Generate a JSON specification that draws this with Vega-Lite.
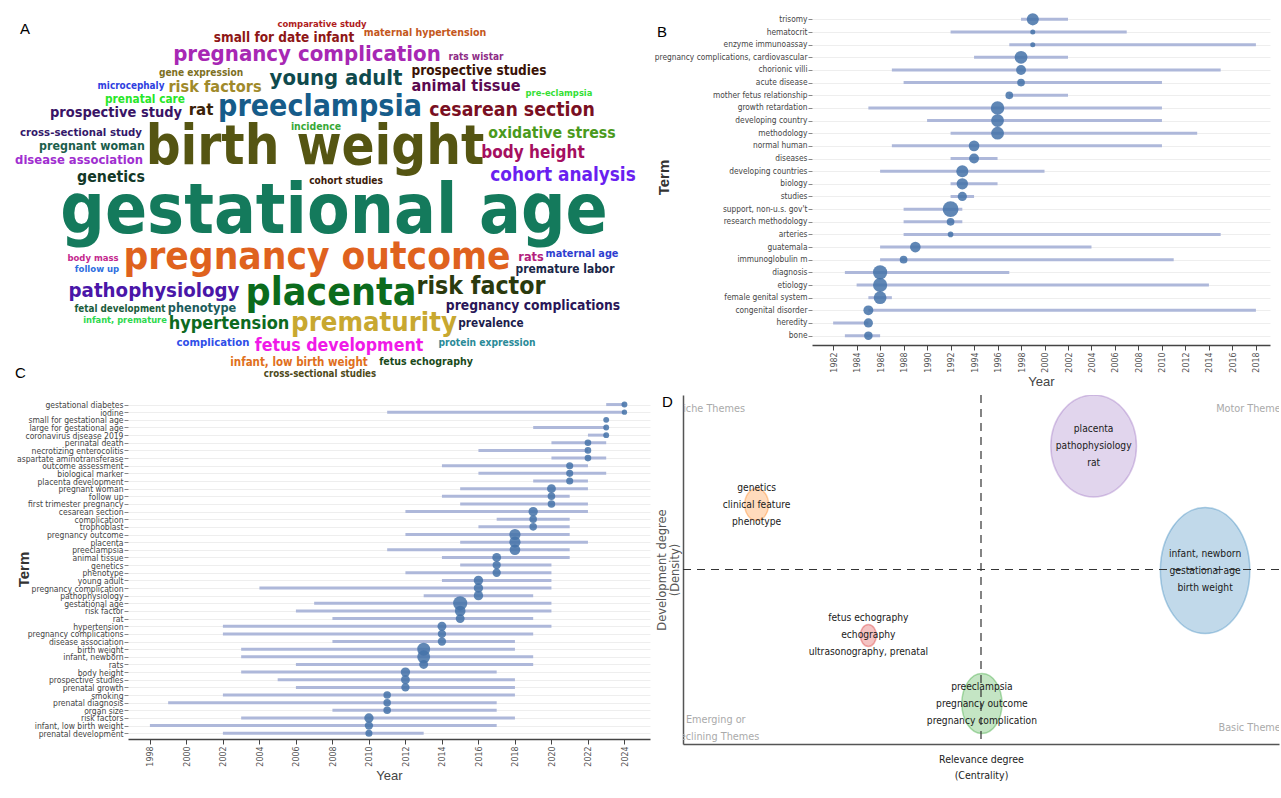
{
  "$schema": "https://vega.github.io/schema/vega-lite/v6.json",
  "padding": {"left": 15, "top": 10, "right": 0, "bottom": 0},
  "background": "white",
  "config": {"view": {"stroke": null}, "axis": {"labelFont": "DejaVu Sans Condensed, Liberation Sans", "titleFont": "Liberation Sans"}},
  "spacing": -23,
  "resolve": {"scale": {"color": "independent", "size": "independent", "shape": "independent", "stroke": "independent", "x": "independent", "y": "independent"}},
  "datasets": {
    "words": [
      {"word": "comparative study", "x": 322, "y": 24, "freq": 12.4},
      {"word": "maternal hypertension", "x": 425, "y": 33, "freq": 13.9},
      {"word": "small for date infant", "x": 284, "y": 38, "freq": 17.8},
      {"word": "pregnancy complication", "x": 307, "y": 54, "freq": 29},
      {"word": "rats wistar", "x": 476, "y": 57, "freq": 13.2},
      {"word": "gene expression", "x": 201, "y": 73, "freq": 13.3},
      {"word": "young adult", "x": 336, "y": 78, "freq": 28.8},
      {"word": "prospective studies", "x": 479, "y": 71, "freq": 17.8},
      {"word": "microcephaly", "x": 131, "y": 86, "freq": 13},
      {"word": "risk factors", "x": 215, "y": 87, "freq": 21.3},
      {"word": "animal tissue", "x": 466, "y": 86, "freq": 21.2},
      {"word": "pre-eclampsia", "x": 559, "y": 93, "freq": 12.3},
      {"word": "prenatal care", "x": 145, "y": 99, "freq": 15.5},
      {"word": "prospective study", "x": 116, "y": 113, "freq": 19.1},
      {"word": "rat", "x": 201, "y": 110, "freq": 22},
      {"word": "preeclampsia", "x": 320, "y": 107, "freq": 39.5},
      {"word": "cesarean section", "x": 512, "y": 110, "freq": 25.4},
      {"word": "cross-sectional study", "x": 81, "y": 133, "freq": 14.9},
      {"word": "incidence", "x": 316, "y": 127, "freq": 13.7},
      {"word": "birth weight", "x": 315, "y": 148, "freq": 71.4},
      {"word": "oxidative stress", "x": 552, "y": 133, "freq": 20.7},
      {"word": "pregnant woman", "x": 92, "y": 146, "freq": 16.2},
      {"word": "body height", "x": 533, "y": 153, "freq": 22.4},
      {"word": "disease association", "x": 79, "y": 160, "freq": 17},
      {"word": "genetics", "x": 111, "y": 177, "freq": 20.7},
      {"word": "cohort studies", "x": 346, "y": 181, "freq": 13.3},
      {"word": "cohort analysis", "x": 563, "y": 175, "freq": 24.8},
      {"word": "gestational age", "x": 334, "y": 212, "freq": 91},
      {"word": "body mass", "x": 93, "y": 258, "freq": 12.4},
      {"word": "pregnancy outcome", "x": 317, "y": 257, "freq": 50.7},
      {"word": "rats", "x": 531, "y": 257, "freq": 16.6},
      {"word": "maternal age", "x": 582, "y": 254, "freq": 14.2},
      {"word": "follow up", "x": 97, "y": 269, "freq": 12.5},
      {"word": "premature labor", "x": 565, "y": 269, "freq": 15.7},
      {"word": "pathophysiology", "x": 154, "y": 291, "freq": 26.7},
      {"word": "placenta", "x": 331, "y": 293, "freq": 51.4},
      {"word": "risk factor", "x": 481, "y": 287, "freq": 32.5},
      {"word": "pregnancy complications", "x": 533, "y": 306, "freq": 18.1},
      {"word": "fetal development", "x": 120, "y": 309, "freq": 12.9},
      {"word": "phenotype", "x": 202, "y": 308, "freq": 16.6},
      {"word": "infant, premature", "x": 125, "y": 320, "freq": 12.2},
      {"word": "hypertension", "x": 229, "y": 324, "freq": 23.7},
      {"word": "prematurity", "x": 374, "y": 323, "freq": 35.9},
      {"word": "prevalence", "x": 491, "y": 323, "freq": 15.4},
      {"word": "complication", "x": 213, "y": 343, "freq": 14.8},
      {"word": "fetus development", "x": 339, "y": 346, "freq": 23.2},
      {"word": "protein expression", "x": 487, "y": 343, "freq": 13.4},
      {"word": "infant, low birth weight", "x": 299, "y": 363, "freq": 15.1},
      {"word": "fetus echography", "x": 426, "y": 362, "freq": 13.9},
      {"word": "cross-sectional studies", "x": 320, "y": 374, "freq": 12.7}
    ],
    "trendB": [
      {"term": "trisomy", "q1": 1998, "median": 1999, "q3": 2002, "freq": 46},
      {"term": "hematocrit", "q1": 1992, "median": 1999, "q3": 2007, "freq": 8},
      {"term": "enzyme immunoassay", "q1": 1997, "median": 1999, "q3": 2018, "freq": 8},
      {"term": "pregnancy complications, cardiovascular", "q1": 1994, "median": 1998, "q3": 2002, "freq": 52},
      {"term": "chorionic villi", "q1": 1987, "median": 1998, "q3": 2015, "freq": 31},
      {"term": "acute disease", "q1": 1988, "median": 1998, "q3": 2010, "freq": 19},
      {"term": "mother fetus relationship", "q1": 1997, "median": 1997, "q3": 2002, "freq": 19},
      {"term": "growth retardation", "q1": 1985, "median": 1996, "q3": 2010, "freq": 58},
      {"term": "developing country", "q1": 1990, "median": 1996, "q3": 2010, "freq": 52},
      {"term": "methodology", "q1": 1992, "median": 1996, "q3": 2013, "freq": 52},
      {"term": "normal human", "q1": 1987, "median": 1994, "q3": 2010, "freq": 36},
      {"term": "diseases", "q1": 1992, "median": 1994, "q3": 1996, "freq": 31},
      {"term": "developing countries", "q1": 1986, "median": 1993, "q3": 2000, "freq": 46},
      {"term": "biology", "q1": 1992, "median": 1993, "q3": 1996, "freq": 41},
      {"term": "studies", "q1": 1992, "median": 1993, "q3": 1994, "freq": 27},
      {"term": "support, non-u.s. gov't", "q1": 1988, "median": 1992, "q3": 1993, "freq": 79},
      {"term": "research methodology", "q1": 1988, "median": 1992, "q3": 1993, "freq": 19},
      {"term": "arteries", "q1": 1988, "median": 1992, "q3": 2015, "freq": 10},
      {"term": "guatemala", "q1": 1986, "median": 1989, "q3": 2004, "freq": 36},
      {"term": "immunoglobulin m", "q1": 1986, "median": 1988, "q3": 2011, "freq": 19},
      {"term": "diagnosis", "q1": 1983, "median": 1986, "q3": 1997, "freq": 64},
      {"term": "etiology", "q1": 1984, "median": 1986, "q3": 2014, "freq": 64},
      {"term": "female genital system", "q1": 1985, "median": 1986, "q3": 1987, "freq": 52},
      {"term": "congenital disorder", "q1": 1985, "median": 1985, "q3": 2018, "freq": 31},
      {"term": "heredity", "q1": 1982, "median": 1985, "q3": 1985, "freq": 27},
      {"term": "bone", "q1": 1983, "median": 1985, "q3": 1986, "freq": 23}
    ],
    "trendC": [
      {"term": "gestational diabetes", "q1": 2023, "median": 2024, "q3": 2024, "freq": 11},
      {"term": "iodine", "q1": 2011, "median": 2024, "q3": 2024, "freq": 9},
      {"term": "small for gestational age", "q1": 2023, "median": 2023, "q3": 2023, "freq": 11},
      {"term": "large for gestational age", "q1": 2019, "median": 2023, "q3": 2023, "freq": 11},
      {"term": "coronavirus disease 2019", "q1": 2022, "median": 2023, "q3": 2023, "freq": 11},
      {"term": "perinatal death", "q1": 2020, "median": 2022, "q3": 2023, "freq": 14},
      {"term": "necrotizing enterocolitis", "q1": 2016, "median": 2022, "q3": 2022, "freq": 14},
      {"term": "aspartate aminotransferase", "q1": 2020, "median": 2022, "q3": 2023, "freq": 14},
      {"term": "outcome assessment", "q1": 2014, "median": 2021, "q3": 2022, "freq": 16},
      {"term": "biological marker", "q1": 2016, "median": 2021, "q3": 2023, "freq": 16},
      {"term": "placenta development", "q1": 2019, "median": 2021, "q3": 2022, "freq": 16},
      {"term": "pregnant woman", "q1": 2015, "median": 2020, "q3": 2022, "freq": 25},
      {"term": "follow up", "q1": 2014, "median": 2020, "q3": 2021, "freq": 18},
      {"term": "first trimester pregnancy", "q1": 2015, "median": 2020, "q3": 2022, "freq": 18},
      {"term": "cesarean section", "q1": 2012, "median": 2019, "q3": 2022, "freq": 28},
      {"term": "complication", "q1": 2017, "median": 2019, "q3": 2021, "freq": 18},
      {"term": "trophoblast", "q1": 2016, "median": 2019, "q3": 2021, "freq": 18},
      {"term": "pregnancy outcome", "q1": 2012, "median": 2018, "q3": 2021, "freq": 40},
      {"term": "placenta", "q1": 2015, "median": 2018, "q3": 2022, "freq": 40},
      {"term": "preeclampsia", "q1": 2011, "median": 2018, "q3": 2021, "freq": 36},
      {"term": "animal tissue", "q1": 2014, "median": 2017, "q3": 2021, "freq": 25},
      {"term": "genetics", "q1": 2015, "median": 2017, "q3": 2020, "freq": 22},
      {"term": "phenotype", "q1": 2012, "median": 2017, "q3": 2020, "freq": 22},
      {"term": "young adult", "q1": 2014, "median": 2016, "q3": 2020, "freq": 28},
      {"term": "pregnancy complication", "q1": 2004, "median": 2016, "q3": 2020, "freq": 28},
      {"term": "pathophysiology", "q1": 2013, "median": 2016, "q3": 2019, "freq": 28},
      {"term": "gestational age", "q1": 2007, "median": 2015, "q3": 2020, "freq": 64},
      {"term": "risk factor", "q1": 2006, "median": 2015, "q3": 2020, "freq": 36},
      {"term": "rat", "q1": 2008, "median": 2015, "q3": 2019, "freq": 25},
      {"term": "hypertension", "q1": 2002, "median": 2014, "q3": 2020, "freq": 25},
      {"term": "pregnancy complications", "q1": 2002, "median": 2014, "q3": 2019, "freq": 22},
      {"term": "disease association", "q1": 2008, "median": 2014, "q3": 2018, "freq": 22},
      {"term": "birth weight", "q1": 2003, "median": 2013, "q3": 2018, "freq": 53},
      {"term": "infant, newborn", "q1": 2003, "median": 2013, "q3": 2019, "freq": 53},
      {"term": "rats", "q1": 2006, "median": 2013, "q3": 2019, "freq": 25},
      {"term": "body height", "q1": 2003, "median": 2012, "q3": 2017, "freq": 28},
      {"term": "prospective studies", "q1": 2005, "median": 2012, "q3": 2018, "freq": 25},
      {"term": "prenatal growth", "q1": 2006, "median": 2012, "q3": 2018, "freq": 22},
      {"term": "smoking", "q1": 2002, "median": 2011, "q3": 2018, "freq": 18},
      {"term": "prenatal diagnosis", "q1": 1999, "median": 2011, "q3": 2017, "freq": 18},
      {"term": "organ size", "q1": 2008, "median": 2011, "q3": 2017, "freq": 18},
      {"term": "risk factors", "q1": 2003, "median": 2010, "q3": 2018, "freq": 28},
      {"term": "infant, low birth weight", "q1": 1998, "median": 2010, "q3": 2017, "freq": 22},
      {"term": "prenatal development", "q1": 2002, "median": 2010, "q3": 2013, "freq": 16}
    ],
    "themes": [
      {"cluster": "placenta", "label": "placenta\npathophysiology\nrat", "cx": 0.378, "cy": 0.708, "occurrences": 1040},
      {"cluster": "infant, newborn", "label": "infant, newborn\ngestational age\nbirth weight", "cx": 0.752, "cy": -0.006, "occurrences": 1588},
      {"cluster": "genetics", "label": "genetics\nclinical feature\nphenotype", "cx": -0.753, "cy": 0.372, "occurrences": 102},
      {"cluster": "fetus echography", "label": "fetus echography\nechography\nultrasonography, prenatal", "cx": -0.378, "cy": -0.378, "occurrences": 48},
      {"cluster": "preeclampsia", "label": "preeclampsia\npregnancy outcome\npregnancy complication", "cx": 0.003, "cy": -0.768, "occurrences": 360}
    ],
    "quads": [
      {"label": "Niche Themes", "cx": -0.908, "cy": 0.917},
      {"label": "Motor Themes", "cx": 0.906, "cy": 0.917},
      {"label": "Emerging or\nDeclining Themes", "cx": -0.89, "cy": -0.865},
      {"label": "Basic Themes", "cx": 0.91, "cy": -0.911}
    ]
  },
  "vconcat": [
    {
      "bounds": "flush",
      "spacing": 33,
      "resolve": {"scale": {"color": "independent", "size": "independent", "x": "independent", "y": "independent"}},
      "hconcat": [
        {
          "width": 651,
          "height": 335,
          "title": {"text": "A", "anchor": "start", "frame": "group", "offset": 0, "baseline": "alphabetic", "dx": -108, "dy": 39, "fontSize": 15, "fontWeight": "normal", "font": "Liberation Sans", "color": "#000000"},
          "data": {"name": "words"},
          "mark": {"type": "text", "font": "DejaVu Sans Condensed, Liberation Sans", "fontWeight": "bold", "align": "center", "baseline": "middle"},
          "encoding": {
            "x": {"field": "x", "type": "quantitative", "scale": {"domain": [128, 779], "nice": false, "zero": false}, "axis": null},
            "y": {"field": "y", "type": "quantitative", "scale": {"domain": [10, 345], "nice": false, "zero": false, "reverse": true}, "axis": null},
            "text": {"field": "word"},
            "size": {"field": "freq", "type": "quantitative", "scale": {"domain": [0, 100], "range": [0, 76]}, "legend": null},
            "color": {"field": "word", "type": "nominal", "legend": null, "scale": {
              "domain": ["comparative study", "maternal hypertension", "small for date infant", "pregnancy complication", "rats wistar", "gene expression", "young adult", "prospective studies", "microcephaly", "risk factors", "animal tissue", "pre-eclampsia", "prenatal care", "prospective study", "rat", "preeclampsia", "cesarean section", "cross-sectional study", "incidence", "birth weight", "oxidative stress", "pregnant woman", "body height", "disease association", "genetics", "cohort studies", "cohort analysis", "gestational age", "body mass", "pregnancy outcome", "rats", "maternal age", "follow up", "premature labor", "pathophysiology", "placenta", "risk factor", "pregnancy complications", "fetal development", "phenotype", "infant, premature", "hypertension", "prematurity", "prevalence", "complication", "fetus development", "protein expression", "infant, low birth weight", "fetus echography", "cross-sectional studies"],
              "range": ["#b01c1c", "#c4571c", "#8e1616", "#a728b4", "#8e2c86", "#7d6f1f", "#0f4a4d", "#3b1306", "#2f3fe0", "#a08a2a", "#5b0a50", "#34e034", "#28e628", "#3a1466", "#3b2208", "#165c8a", "#7a0f22", "#34186a", "#37a837", "#555512", "#4a9a1c", "#1b5e4b", "#a50f5f", "#a02ed0", "#123828", "#3b1a08", "#6a1ff0", "#147a5c", "#c4288e", "#df621e", "#b41e7e", "#2e3ed0", "#2e6ee0", "#1a2648", "#4a16a8", "#0b6b1c", "#2b3a0e", "#2a1658", "#1b5c3c", "#1c5c5c", "#2ed84e", "#0d6a1e", "#c8a830", "#1c1c4c", "#2e4ee8", "#f01ae8", "#2a8a98", "#e0701c", "#1a4a1a", "#4e4a1a"]
            }}
          }
        },
        {
          "width": 458,
          "height": 335,
          "title": {"text": "B", "anchor": "start", "frame": "group", "offset": 0, "baseline": "alphabetic", "dx": -155, "dy": 42, "fontSize": 15, "fontWeight": "normal", "font": "Liberation Sans", "color": "#000000"},
          "data": {"name": "trendB"},
          "encoding": {
            "y": {"field": "term", "type": "nominal", "sort": null, "scale": {"type": "point", "padding": 0.741},
              "axis": {"title": "Term", "titleFont": "Liberation Sans", "titleFontWeight": "bold", "titleFontSize": 15, "titleColor": "#333333", "titleAngle": -90, "titleX": -149, "titleY": 167, "titleAlign": "center", "titleBaseline": "middle",
                "labelFontSize": 8.3, "labelColor": "#444444", "domain": false, "ticks": true, "tickSize": 4, "tickColor": "#888888", "labelPadding": 1, "grid": true, "gridColor": "#eeeeee"}}
          },
          "layer": [
            {
              "mark": {"type": "rule", "color": "#aeb8da", "strokeWidth": 3},
              "encoding": {
                "x": {"field": "q1", "type": "quantitative", "title": "Year", "scale": {"domain": [1980.2, 2019.2], "nice": false, "zero": false},
                  "axis": {"title": "Year", "values": [1982, 1984, 1986, 1988, 1990, 1992, 1994, 1996, 1998, 2000, 2002, 2004, 2006, 2008, 2010, 2012, 2014, 2016, 2018], "format": "d", "labelAngle": -90, "labelFontSize": 8.8, "labelColor": "#555555", "domainColor": "#444444", "domainWidth": 1.5, "tickColor": "#444444", "tickSize": 5, "labelPadding": 2, "grid": false, "titleFontSize": 13, "titleFontWeight": "normal", "titleColor": "#444444", "titlePadding": 3}},
                "x2": {"field": "q3"}
              }
            },
            {
              "mark": {"type": "circle", "color": "#4472a8", "opacity": 0.85},
              "encoding": {
                "x": {"field": "median", "type": "quantitative", "title": "Year", "scale": {"domain": [1980.2, 2019.2], "nice": false, "zero": false},
                  "axis": {"title": "Year", "values": [1982, 1984, 1986, 1988, 1990, 1992, 1994, 1996, 1998, 2000, 2002, 2004, 2006, 2008, 2010, 2012, 2014, 2016, 2018], "format": "d", "labelAngle": -90, "labelFontSize": 8.8, "labelColor": "#555555", "domainColor": "#444444", "domainWidth": 1.5, "tickColor": "#444444", "tickSize": 5, "labelPadding": 2, "grid": false, "titleFontSize": 13, "titleFontWeight": "normal", "titleColor": "#444444", "titlePadding": 3}},
                "size": {"field": "freq", "type": "quantitative", "scale": {"domain": [0, 100], "range": [0, 314]}, "legend": null}
              }
            }
          ]
        }
      ]
    },
    {
      "bounds": "flush",
      "spacing": 33,
      "resolve": {"scale": {"color": "independent", "size": "independent", "shape": "independent", "stroke": "independent", "x": "independent", "y": "independent"}},
      "hconcat": [
        {
          "width": 522,
          "height": 344,
          "title": {"text": "C", "anchor": "start", "frame": "group", "offset": 0, "baseline": "alphabetic", "dx": -113, "dy": -2, "fontSize": 15, "fontWeight": "normal", "font": "Liberation Sans", "color": "#000000"},
          "data": {"name": "trendC"},
          "encoding": {
            "y": {"field": "term", "type": "nominal", "sort": null, "scale": {"type": "point", "padding": 1.049, "align": 0.625},
              "axis": {"title": "Term", "titleFont": "Liberation Sans", "titleFontWeight": "bold", "titleFontSize": 15, "titleColor": "#333333", "titleAngle": -90, "titleX": -105, "titleY": 174, "titleAlign": "center", "titleBaseline": "middle",
                "labelFontSize": 8.5, "labelColor": "#444444", "domain": false, "ticks": true, "tickSize": 4, "tickColor": "#888888", "labelPadding": 1, "grid": true, "gridColor": "#eeeeee"}}
          },
          "layer": [
            {
              "mark": {"type": "rule", "color": "#aeb8da", "strokeWidth": 3},
              "encoding": {
                "x": {"field": "q1", "type": "quantitative", "title": "Year", "scale": {"domain": [1996.8, 2025.4], "nice": false, "zero": false},
                  "axis": {"title": "Year", "values": [1998, 2000, 2002, 2004, 2006, 2008, 2010, 2012, 2014, 2016, 2018, 2020, 2022, 2024], "format": "d", "labelAngle": -90, "labelFontSize": 8.8, "labelColor": "#555555", "domainColor": "#444444", "domainWidth": 1.5, "tickColor": "#444444", "tickSize": 5, "labelPadding": 2, "grid": false, "titleFontSize": 13, "titleFontWeight": "normal", "titleColor": "#444444", "titlePadding": 3}},
                "x2": {"field": "q3"}
              }
            },
            {
              "mark": {"type": "circle", "color": "#4472a8", "opacity": 0.85},
              "encoding": {
                "x": {"field": "median", "type": "quantitative", "title": "Year", "scale": {"domain": [1996.8, 2025.4], "nice": false, "zero": false},
                  "axis": {"title": "Year", "values": [1998, 2000, 2002, 2004, 2006, 2008, 2010, 2012, 2014, 2016, 2018, 2020, 2022, 2024], "format": "d", "labelAngle": -90, "labelFontSize": 8.8, "labelColor": "#555555", "domainColor": "#444444", "domainWidth": 1.5, "tickColor": "#444444", "tickSize": 5, "labelPadding": 2, "grid": false, "titleFontSize": 13, "titleFontWeight": "normal", "titleColor": "#444444", "titlePadding": 3}},
                "size": {"field": "freq", "type": "quantitative", "scale": {"domain": [0, 100], "range": [0, 314]}, "legend": null}
              }
            }
          ]
        },
        {
          "width": 596,
          "height": 349,
          "title": {"text": "D", "anchor": "start", "frame": "group", "offset": 0, "baseline": "alphabetic", "dx": -21, "dy": 28, "fontSize": 15, "fontWeight": "normal", "font": "Liberation Sans", "color": "#000000"},
          "layer": [
            {
              "data": {"name": "themes"},
              "mark": {"type": "point", "filled": true, "clip": true, "fillOpacity": 0.28, "strokeOpacity": 0.35, "strokeWidth": 1.5},
              "encoding": {
                "x": {"field": "cx", "type": "quantitative", "scale": {"domain": [-1, 1], "nice": false, "zero": false},
                  "axis": {"title": ["Relevance degree", "(Centrality)"], "titleFont": "DejaVu Sans Condensed, Liberation Sans", "titleFontSize": 10.5, "titleFontWeight": "normal", "titleColor": "#222222", "titleLineHeight": 16, "titlePadding": 10, "labels": false, "ticks": false, "grid": false, "domainColor": "#555555", "domainWidth": 1.5}},
                "y": {"field": "cy", "type": "quantitative", "scale": {"domain": [-1, 1], "nice": false, "zero": false},
                  "axis": {"title": ["Development degree", "(Density)"], "titleFont": "DejaVu Sans", "titleFontSize": 11.5, "titleFontWeight": "normal", "titleColor": "#555555", "titleLineHeight": 13, "titlePadding": 3, "labels": false, "ticks": false, "grid": false, "domainColor": "#555555", "domainWidth": 1.5}},
                "size": {"field": "occurrences", "type": "quantitative", "scale": {"domain": [0, 1600], "range": [0, 16000]}, "legend": null},
                "shape": {"field": "cluster", "type": "nominal", "legend": null, "scale": {
                  "domain": ["placenta", "infant, newborn", "genetics", "fetus echography", "preeclampsia"],
                  "range": ["M-0.84,0A0.84,1 0 1,1 0.84,0A0.84,1 0 1,1 -0.84,0Z", "M-0.71,0A0.71,1 0 1,1 0.71,0A0.71,1 0 1,1 -0.71,0Z", "M-0.75,0A0.75,1 0 1,1 0.75,0A0.75,1 0 1,1 -0.75,0Z", "M-0.73,0A0.73,1 0 1,1 0.73,0A0.73,1 0 1,1 -0.73,0Z", "M-0.67,0A0.67,1 0 1,1 0.67,0A0.67,1 0 1,1 -0.67,0Z"]}},
                "color": {"field": "cluster", "type": "nominal", "legend": null, "scale": {
                  "domain": ["placenta", "infant, newborn", "genetics", "fetus echography", "preeclampsia"],
                  "range": ["#9467bd", "#1f77b4", "#ff7f0e", "#d62728", "#2ca02c"]}},
                "stroke": {"field": "cluster", "type": "nominal", "legend": null, "scale": {
                  "domain": ["placenta", "infant, newborn", "genetics", "fetus echography", "preeclampsia"],
                  "range": ["#9467bd", "#1f77b4", "#ff7f0e", "#d62728", "#2ca02c"]}}
              }
            },
            {
              "data": {"name": "themes"},
              "mark": {"type": "text", "lineBreak": "\n", "font": "DejaVu Sans Condensed, Liberation Sans", "fontSize": 10.2, "lineHeight": 17, "dy": -17, "color": "#1a1a1a", "align": "center", "baseline": "middle"},
              "encoding": {
                "x": {"field": "cx", "type": "quantitative", "scale": {"domain": [-1, 1], "nice": false, "zero": false},
                  "axis": {"title": ["Relevance degree", "(Centrality)"], "titleFont": "DejaVu Sans Condensed, Liberation Sans", "titleFontSize": 10.5, "titleFontWeight": "normal", "titleColor": "#222222", "titleLineHeight": 16, "titlePadding": 10, "labels": false, "ticks": false, "grid": false, "domainColor": "#555555", "domainWidth": 1.5}},
                "y": {"field": "cy", "type": "quantitative", "scale": {"domain": [-1, 1], "nice": false, "zero": false},
                  "axis": {"title": ["Development degree", "(Density)"], "titleFont": "DejaVu Sans", "titleFontSize": 11.5, "titleFontWeight": "normal", "titleColor": "#555555", "titleLineHeight": 13, "titlePadding": 3, "labels": false, "ticks": false, "grid": false, "domainColor": "#555555", "domainWidth": 1.5}},
                "text": {"field": "label"}
              }
            },
            {
              "data": {"name": "quads"},
              "mark": {"type": "text", "clip": true, "lineBreak": "\n", "font": "DejaVu Sans Condensed, Liberation Sans", "fontSize": 10.8, "lineHeight": 17, "color": "#aaaaaa", "align": "center", "baseline": "middle"},
              "encoding": {
                "x": {"field": "cx", "type": "quantitative", "scale": {"domain": [-1, 1], "nice": false, "zero": false},
                  "axis": {"title": ["Relevance degree", "(Centrality)"], "titleFont": "DejaVu Sans Condensed, Liberation Sans", "titleFontSize": 10.5, "titleFontWeight": "normal", "titleColor": "#222222", "titleLineHeight": 16, "titlePadding": 10, "labels": false, "ticks": false, "grid": false, "domainColor": "#555555", "domainWidth": 1.5}},
                "y": {"field": "cy", "type": "quantitative", "scale": {"domain": [-1, 1], "nice": false, "zero": false},
                  "axis": {"title": ["Development degree", "(Density)"], "titleFont": "DejaVu Sans", "titleFontSize": 11.5, "titleFontWeight": "normal", "titleColor": "#555555", "titleLineHeight": 13, "titlePadding": 3, "labels": false, "ticks": false, "grid": false, "domainColor": "#555555", "domainWidth": 1.5}},
                "text": {"field": "label"}
              }
            },
            {
              "data": {"values": [{"ref": 0}]},
              "mark": {"type": "rule", "strokeDash": [8, 6], "color": "#333333", "strokeWidth": 1.2},
              "encoding": {
                "x": {"field": "ref", "type": "quantitative", "scale": {"domain": [-1, 1], "nice": false, "zero": false},
                  "axis": {"title": ["Relevance degree", "(Centrality)"], "titleFont": "DejaVu Sans Condensed, Liberation Sans", "titleFontSize": 10.5, "titleFontWeight": "normal", "titleColor": "#222222", "titleLineHeight": 16, "titlePadding": 10, "labels": false, "ticks": false, "grid": false, "domainColor": "#555555", "domainWidth": 1.5}}
              }
            },
            {
              "data": {"values": [{"ref": 0}]},
              "mark": {"type": "rule", "strokeDash": [8, 6], "color": "#333333", "strokeWidth": 1.2},
              "encoding": {
                "y": {"field": "ref", "type": "quantitative", "scale": {"domain": [-1, 1], "nice": false, "zero": false},
                  "axis": {"title": ["Development degree", "(Density)"], "titleFont": "DejaVu Sans", "titleFontSize": 11.5, "titleFontWeight": "normal", "titleColor": "#555555", "titleLineHeight": 13, "titlePadding": 3, "labels": false, "ticks": false, "grid": false, "domainColor": "#555555", "domainWidth": 1.5}}
              }
            }
          ]
        }
      ]
    }
  ]
}
